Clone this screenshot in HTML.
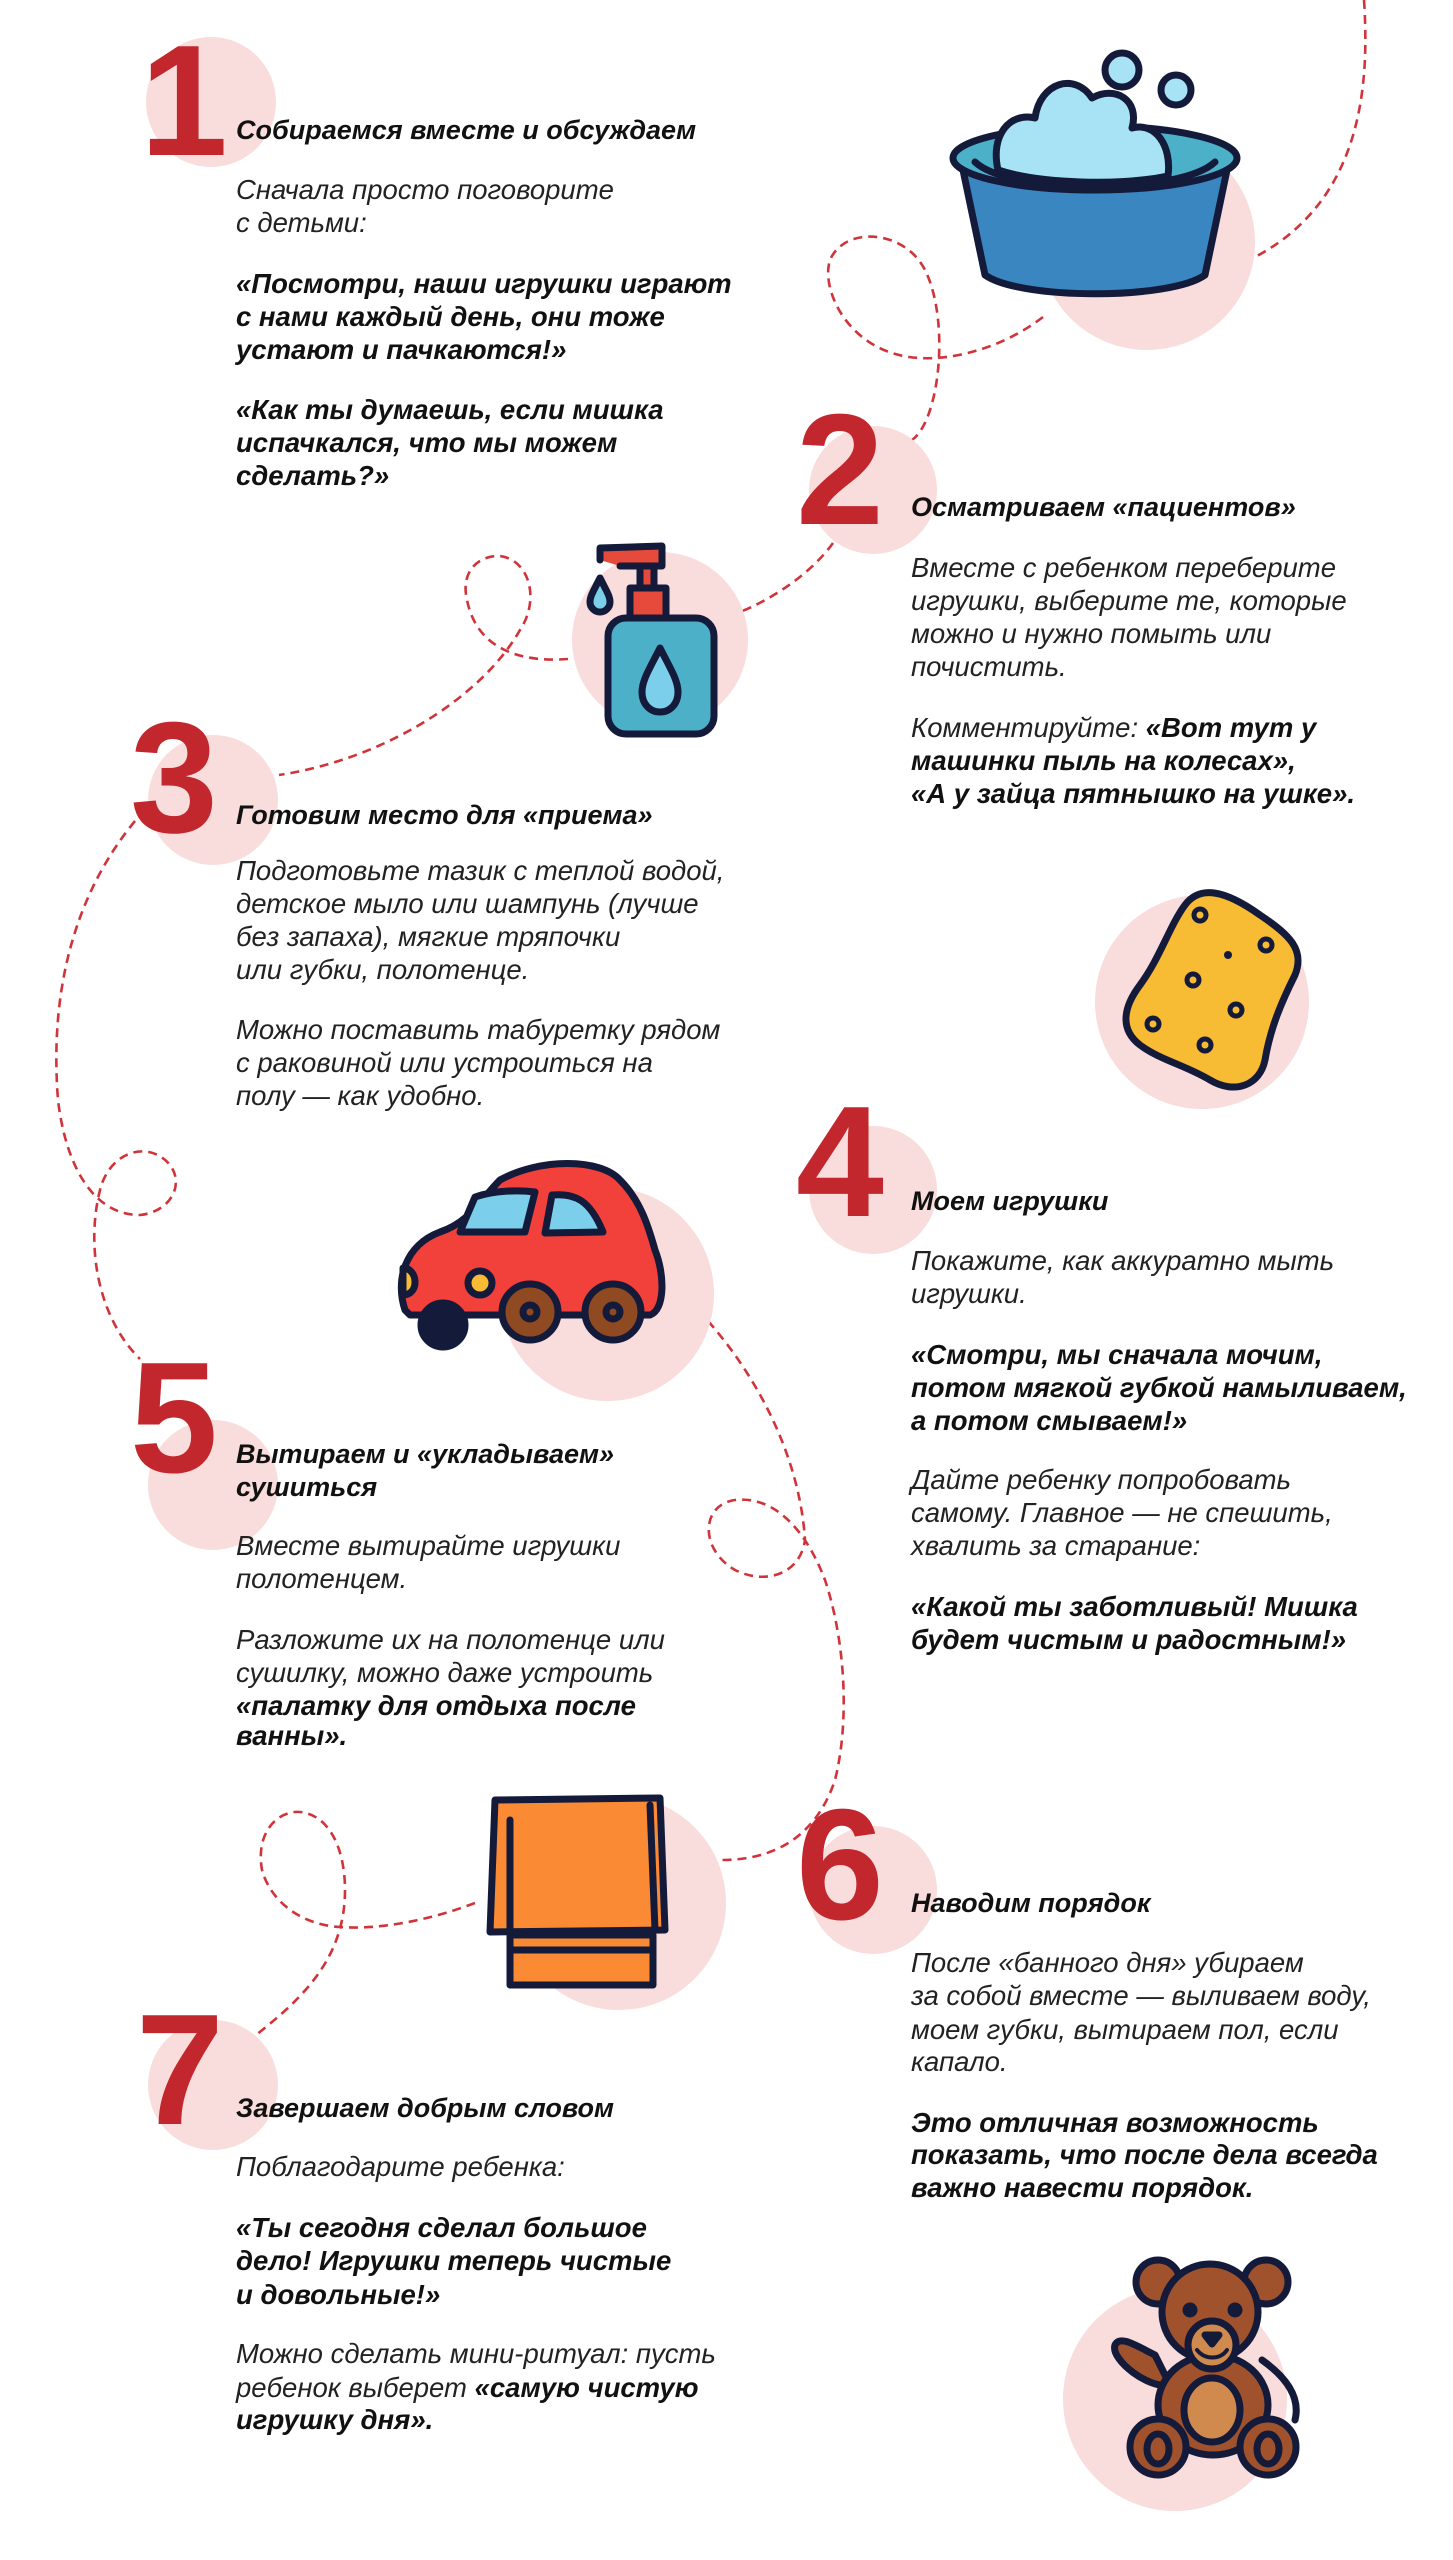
<!DOCTYPE html>
<html><head><meta charset="utf-8"><style>
html,body{margin:0;padding:0;background:#fff;}
svg{display:block;}
.h{font-family:"Liberation Sans","Noto Sans CJK SC",sans-serif;font-weight:bold;font-style:italic;font-size:27px;fill:#111;}
.t{font-family:"Liberation Sans","Noto Sans CJK SC",sans-serif;font-style:italic;font-size:27.5px;fill:#222;}
.b{font-weight:bold;fill:#111;}
.n{font-family:"Liberation Sans",sans-serif;font-weight:bold;font-size:158px;fill:#c1272d;}
.p{fill:#f9dcdc;}
.d{fill:none;stroke:#d0343a;stroke-width:2.6;stroke-dasharray:9 6;}
.o{stroke:#141a3a;stroke-width:7;stroke-linejoin:round;stroke-linecap:round;}
</style></head><body>
<svg width="1453" height="2560" viewBox="0 0 1453 2560" xmlns="http://www.w3.org/2000/svg">
<path class="d" d="M1364,0 C1370,90 1360,200 1257,256"/>
<path class="d" d="M1043,317 C1000,350 950,360 920,358 C850,355 820,290 830,260 C845,225 905,230 925,270 C950,320 940,420 912,440"/>
<path class="d" d="M833,543 C810,575 770,600 740,612"/>
<path class="d" d="M568,659 C530,662 478,655 467,600 C460,570 480,555 500,556 C530,560 540,600 520,630 C480,700 380,760 279,775"/>
<path class="d" d="M135,821 C70,900 50,1000 58,1100 C65,1160 90,1215 140,1215 C170,1212 185,1185 170,1165 C150,1140 110,1150 100,1190 C85,1250 100,1320 140,1359"/>
<path class="d" d="M708,1321 C760,1380 800,1460 805,1540 C800,1575 765,1585 735,1570 C700,1550 700,1505 735,1500 C780,1495 810,1540 825,1580 C845,1640 850,1720 835,1780 C815,1840 770,1860 722,1860"/>
<path class="d" d="M475,1903 C430,1920 380,1930 340,1927 C300,1925 270,1900 262,1870 C255,1830 280,1810 300,1812 C330,1815 345,1850 345,1890 C345,1960 300,2000 256,2035"/>
<circle class="p" cx="211" cy="102" r="65"/>
<circle class="p" cx="873" cy="490" r="64"/>
<circle class="p" cx="213" cy="800" r="65"/>
<circle class="p" cx="873" cy="1190" r="64"/>
<circle class="p" cx="213" cy="1485" r="65"/>
<circle class="p" cx="873" cy="1890" r="64"/>
<circle class="p" cx="213" cy="2085" r="65"/>
<circle class="p" cx="1147" cy="242" r="108"/>
<circle class="p" cx="660" cy="640" r="88"/>
<circle class="p" cx="1202" cy="1002" r="107"/>
<circle class="p" cx="607" cy="1294" r="107"/>
<circle class="p" cx="619" cy="1903" r="107"/>
<circle class="p" cx="1175" cy="2399" r="112"/>
<text class="n" x="140" y="155">1</text>
<text class="n" x="796" y="524">2</text>
<text class="n" x="130" y="832">3</text>
<text class="n" x="796" y="1216">4</text>
<text class="n" x="130" y="1472">5</text>
<text class="n" x="796" y="1919">6</text>
<text class="n" x="136" y="2124">7</text>
<!-- basin -->
<g class="o">
<circle cx="1122" cy="70" r="17" fill="#a8e3f5"/>
<circle cx="1176" cy="90" r="15" fill="#a8e3f5"/>
<path d="M963,170 L985,275 C1020,300 1170,300 1205,275 L1227,170 Z" fill="#3a86c0"/>
<ellipse cx="1095" cy="158" rx="142" ry="32" fill="#4cb0c8"/>
<path d="M975,162 C1010,195 1180,195 1215,162" fill="none"/>
<path d="M998,170 C990,135 1010,112 1035,118 C1040,82 1075,72 1092,98 C1115,85 1140,100 1132,128 C1155,122 1172,145 1168,176 C1120,186 1040,184 998,170 Z" fill="#a8e3f5"/>
</g>
<!-- soap -->
<g class="o">
<path d="M600,560 L600,548 L662,546 L662,566 L620,566" fill="#e64a3a"/>
<rect x="640" y="566" width="14" height="22" fill="#e64a3a"/>
<rect x="630" y="588" width="36" height="30" fill="#e64a3a"/>
<rect x="608" y="618" width="106" height="116" rx="18" fill="#4cb0c8"/>
<path d="M660,648 C650,668 642,680 642,692 C642,704 650,712 660,712 C670,712 678,704 678,692 C678,680 670,668 660,648 Z" fill="#7ccfea"/>
<path d="M600,578 C594,590 590,596 590,602 C590,608 595,612 600,612 C605,612 610,608 610,602 C610,596 606,590 600,578 Z" fill="#7ccfea"/>
</g>
<!-- sponge -->
<g class="o">
<path d="M1185,905 C1200,885 1225,890 1260,915 C1290,935 1305,950 1295,975 C1280,1005 1270,1030 1265,1060 C1260,1085 1235,1095 1210,1080 C1185,1065 1160,1060 1140,1045 C1118,1028 1125,1005 1140,985 C1160,958 1170,925 1185,905 Z" fill="#f8bc34"/>
<g fill="none" stroke-width="5"><circle cx="1200" cy="915" r="6"/><circle cx="1266" cy="945" r="6"/><circle cx="1193" cy="980" r="6"/><circle cx="1236" cy="1010" r="6"/><circle cx="1153" cy="1024" r="6"/><circle cx="1205" cy="1045" r="6"/></g>
<circle cx="1228" cy="955" r="4" fill="#141a3a" stroke="none"/>
</g>
<!-- car -->
<g class="o">
<path d="M405,1310 C395,1280 405,1245 440,1232 C470,1222 480,1200 500,1180 C540,1158 600,1158 620,1180 C640,1200 648,1225 655,1250 C665,1275 665,1310 650,1315 L410,1315 Z" fill="#f2413a"/>
<path d="M460,1232 L475,1197 C495,1190 520,1190 535,1192 L525,1232 Z" fill="#7ccfea"/>
<path d="M545,1233 L552,1195 C575,1193 590,1200 603,1232 Z" fill="#7ccfea"/>
<circle cx="443" cy="1325" r="22" fill="#141a3a"/>
<circle cx="530" cy="1312" r="28" fill="#8f4a22"/>
<circle cx="613" cy="1312" r="28" fill="#8f4a22"/>
<circle cx="530" cy="1312" r="7" fill="#8f4a22"/>
<circle cx="613" cy="1312" r="7" fill="#8f4a22"/>
<circle cx="480" cy="1283" r="12" fill="#f8bc34"/>
<path d="M403,1268 C418,1268 420,1295 403,1295 Z" fill="#f8bc34"/>
</g>
<!-- towel -->
<g class="o">
<path d="M495,1800 L660,1798 L665,1930 L490,1932 Z" fill="#fb8a35"/>
<rect x="510" y="1935" width="143" height="50" fill="#fb8a35"/>
<path d="M510,1935 L510,1820 M650,1805 L655,1930"/>
<path d="M510,1950 L653,1950"/>
</g>
<!-- bear -->
<g class="o">
<circle cx="1158" cy="2282" r="22" fill="#a0522d"/>
<circle cx="1266" cy="2282" r="22" fill="#a0522d"/>
<path d="M1155,2355 C1135,2345 1120,2335 1115,2345 C1110,2360 1150,2390 1170,2385 Z" fill="#a0522d"/>
<path d="M1262,2360 C1290,2380 1300,2400 1295,2420" fill="none"/>
<ellipse cx="1213" cy="2405" rx="55" ry="50" fill="#a0522d"/>
<circle cx="1210" cy="2312" r="48" fill="#a0522d"/>
<circle cx="1212" cy="2345" r="24" fill="#d08a4e"/>
<ellipse cx="1212" cy="2410" rx="28" ry="32" fill="#d08a4e"/>
<circle cx="1158" cy="2447" r="28" fill="#a0522d"/>
<circle cx="1268" cy="2447" r="28" fill="#a0522d"/>
<ellipse cx="1158" cy="2449" rx="11" ry="15" fill="none"/>
<ellipse cx="1268" cy="2449" rx="11" ry="15" fill="none"/>
<circle cx="1190" cy="2310" r="4" fill="#141a3a"/>
<circle cx="1235" cy="2310" r="4" fill="#141a3a"/>
<path d="M1205,2335 L1219,2335 L1212,2344 Z" fill="#141a3a"/>
<path d="M1197,2350 C1205,2360 1220,2360 1227,2350" fill="none" stroke-width="4"/>
</g>

<text class="h" x="236" y="139">Собираемся вместе и обсуждаем</text>
<text class="t" x="236" y="199">Сначала просто поговорите</text>
<text class="t" x="236" y="232">с детьми:</text>
<text class="t b" x="236" y="293">«Посмотри, наши игрушки играют</text>
<text class="t b" x="236" y="326">с нами каждый день, они тоже</text>
<text class="t b" x="236" y="359">устают и пачкаются!»</text>
<text class="t b" x="236" y="419">«Как ты думаешь, если мишка</text>
<text class="t b" x="236" y="452">испачкался, что мы можем</text>
<text class="t b" x="236" y="485">сделать?»</text>

<text class="h" x="911" y="516">Осматриваем «пациентов»</text>
<text class="t" x="911" y="577">Вместе с ребенком переберите</text>
<text class="t" x="911" y="610">игрушки, выберите те, которые</text>
<text class="t" x="911" y="643">можно и нужно помыть или</text>
<text class="t" x="911" y="676">почистить.</text>
<text class="t" x="911" y="737">Комментируйте: <tspan class="b">«Вот тут у</tspan></text>
<text class="t b" x="911" y="770">машинки пыль на колесах»,</text>
<text class="t b" x="911" y="803">«А у зайца пятнышко на ушке».</text>

<text class="h" x="236" y="824">Готовим место для «приема»</text>
<text class="t" x="236" y="880">Подготовьте тазик с теплой водой,</text>
<text class="t" x="236" y="913">детское мыло или шампунь (лучше</text>
<text class="t" x="236" y="946">без запаха), мягкие тряпочки</text>
<text class="t" x="236" y="979">или губки, полотенце.</text>
<text class="t" x="236" y="1039">Можно поставить табуретку рядом</text>
<text class="t" x="236" y="1072">с раковиной или устроиться на</text>
<text class="t" x="236" y="1105">полу — как удобно.</text>

<text class="h" x="911" y="1210">Моем игрушки</text>
<text class="t" x="911" y="1270">Покажите, как аккуратно мыть</text>
<text class="t" x="911" y="1303">игрушки.</text>
<text class="t b" x="911" y="1364">«Смотри, мы сначала мочим,</text>
<text class="t b" x="911" y="1397">потом мягкой губкой намыливаем,</text>
<text class="t b" x="911" y="1430">а потом смываем!»</text>
<text class="t" x="911" y="1489">Дайте ребенку попробовать</text>
<text class="t" x="911" y="1522">самому. Главное — не спешить,</text>
<text class="t" x="911" y="1555">хвалить за старание:</text>
<text class="t b" x="911" y="1616">«Какой ты заботливый! Мишка</text>
<text class="t b" x="911" y="1649">будет чистым и радостным!»</text>

<text class="h" x="236" y="1463">Вытираем и «укладываем»</text>
<text class="h" x="236" y="1496">сушиться</text>
<text class="t" x="236" y="1555">Вместе вытирайте игрушки</text>
<text class="t" x="236" y="1588">полотенцем.</text>
<text class="t" x="236" y="1649">Разложите их на полотенце или</text>
<text class="t" x="236" y="1682">сушилку, можно даже устроить</text>
<text class="t b" x="236" y="1715">«палатку для отдыха после</text>
<text class="t b" x="236" y="1745">ванны».</text>

<text class="h" x="911" y="1912">Наводим порядок</text>
<text class="t" x="911" y="1972">После «банного дня» убираем</text>
<text class="t" x="911" y="2005">за собой вместе — выливаем воду,</text>
<text class="t" x="911" y="2039">моем губки, вытираем пол, если</text>
<text class="t" x="911" y="2071">капало.</text>
<text class="t b" x="911" y="2132">Это отличная возможность</text>
<text class="t b" x="911" y="2164">показать, что после дела всегда</text>
<text class="t b" x="911" y="2197">важно навести порядок.</text>

<text class="h" x="236" y="2117">Завершаем добрым словом</text>
<text class="t" x="236" y="2176">Поблагодарите ребенка:</text>
<text class="t b" x="236" y="2237">«Ты сегодня сделал большое</text>
<text class="t b" x="236" y="2270">дело! Игрушки теперь чистые</text>
<text class="t b" x="236" y="2304">и довольные!»</text>
<text class="t" x="236" y="2363">Можно сделать мини-ритуал: пусть</text>
<text class="t" x="236" y="2397">ребенок выберет <tspan class="b">«самую чистую</tspan></text>
<text class="t b" x="236" y="2429">игрушку дня».</text>
</svg>
</body></html>
